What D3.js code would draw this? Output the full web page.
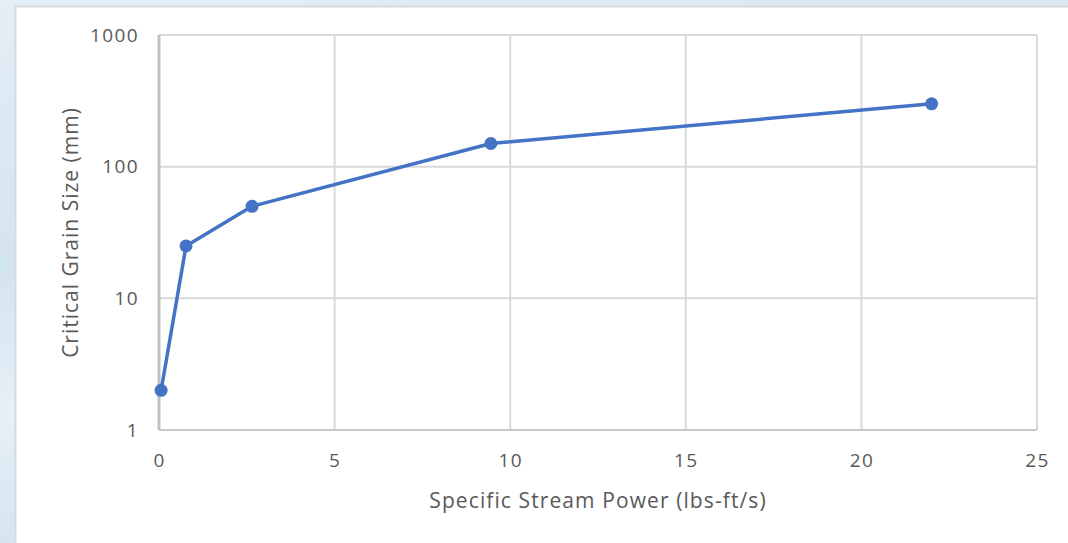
<!DOCTYPE html>
<html>
<head>
<meta charset="utf-8">
<script src="https://cdn.jsdelivr.net/npm/d3@7"></script>
<style>
  html, body { margin: 0; padding: 0; overflow: hidden; }
  body { width: 1068px; height: 543px; }
  svg { display: block; }
</style>
</head>
<body>
<svg id="chart" width="1068" height="543"></svg>
<script>
// Critical grain size versus specific stream power
const streamPower = [0.06, 0.77, 2.65, 9.45, 22];
const grainSize = [2, 25, 50, 150, 300];
const xTicks = [0, 5, 10, 15, 20, 25];
const yTicks = [1, 10, 100, 1000];

const W = 1068, H = 543;
const plot = { left: 159, top: 35, right: 1037, bottom: 430 };
const font = "'Open Sans', sans-serif";
const textColor = "#595959";

const svg = d3.select("#chart");
const defs = svg.append("defs");

// soft blue backdrop
const bg = defs.append("linearGradient").attr("id", "bg")
  .attr("x1", 0).attr("y1", 0).attr("x2", 0.3).attr("y2", 1);
bg.append("stop").attr("offset", 0).attr("stop-color", "#e4eef6");
bg.append("stop").attr("offset", 0.45).attr("stop-color", "#d3e4f1");
bg.append("stop").attr("offset", 0.7).attr("stop-color", "#e6f0f7");
bg.append("stop").attr("offset", 1).attr("stop-color", "#cfe1ef");
svg.append("rect").attr("width", W).attr("height", H).attr("fill", "url(#bg)");

// white chart panel
svg.append("rect")
  .attr("x", 15.5).attr("y", 6.5)
  .attr("width", W).attr("height", H)
  .attr("fill", "#ffffff")
  .attr("stroke", "#d9d9d9").attr("stroke-width", 2);

const x = d3.scaleLinear().domain([0, 25]).range([plot.left, plot.right]);
const y = d3.scaleLog().domain([1, 1000]).range([plot.bottom, plot.top]);

// gridlines
const grid = svg.append("g").attr("stroke", "#d9d9d9").attr("stroke-width", 2);
grid.selectAll("line.v").data(xTicks.slice(1)).join("line")
  .attr("class", "v")
  .attr("x1", d => x(d)).attr("x2", d => x(d))
  .attr("y1", plot.top).attr("y2", plot.bottom);
grid.selectAll("line.h").data(yTicks.slice(1)).join("line")
  .attr("class", "h")
  .attr("x1", plot.left).attr("x2", plot.right)
  .attr("y1", d => y(d)).attr("y2", d => y(d));

// axis lines
svg.append("line")
  .attr("x1", plot.left).attr("x2", plot.right)
  .attr("y1", plot.bottom).attr("y2", plot.bottom)
  .attr("stroke", "#c8c8c8").attr("stroke-width", 2);
svg.append("line")
  .attr("x1", plot.left).attr("x2", plot.left)
  .attr("y1", plot.top).attr("y2", plot.bottom)
  .attr("stroke", "#c0c0c0").attr("stroke-width", 3);

// axes (labels only)
const xAxis = svg.append("g")
  .attr("transform", `translate(0,${plot.bottom})`)
  .call(d3.axisBottom(x).tickValues(xTicks).tickSize(0).tickPadding(24).tickFormat(d3.format("d")));
const yAxis = svg.append("g")
  .attr("transform", `translate(${plot.left},0)`)
  .call(d3.axisLeft(y).tickValues(yTicks).tickSize(0).tickPadding(20).tickFormat(d3.format("d")));
[xAxis, yAxis].forEach(a => {
  a.select(".domain").remove();
  a.selectAll("text")
    .attr("fill", textColor)
    .style("font-family", font)
    .style("font-size", "19px")
    .style("letter-spacing", "1.4px");
});

// series line and markers
const line = d3.line()
  .x((d, i) => x(streamPower[i]))
  .y(d => y(d));
svg.append("path")
  .datum(grainSize)
  .attr("d", line)
  .attr("fill", "none")
  .attr("stroke", "#4472c4")
  .attr("stroke-width", 3.5)
  .attr("stroke-linejoin", "round");
svg.selectAll("circle.pt").data(grainSize).join("circle")
  .attr("class", "pt")
  .attr("cx", (d, i) => x(streamPower[i]))
  .attr("cy", d => y(d))
  .attr("r", 6.5)
  .attr("fill", "#4472c4");

// axis titles
svg.append("text")
  .attr("x", (plot.left + plot.right) / 2)
  .attr("y", 508)
  .attr("text-anchor", "middle")
  .attr("fill", textColor)
  .style("font-family", font)
  .style("font-size", "21px")
  .style("letter-spacing", "1.1px")
  .text("Specific Stream Power (lbs-ft/s)");
svg.append("text")
  .attr("transform", `translate(78,${(plot.top + plot.bottom) / 2}) rotate(-90)`)
  .attr("text-anchor", "middle")
  .attr("fill", textColor)
  .style("font-family", font)
  .style("font-size", "21px")
  .style("letter-spacing", "1px")
  .text("Critical Grain Size (mm)");
</script>
</body>
</html>
